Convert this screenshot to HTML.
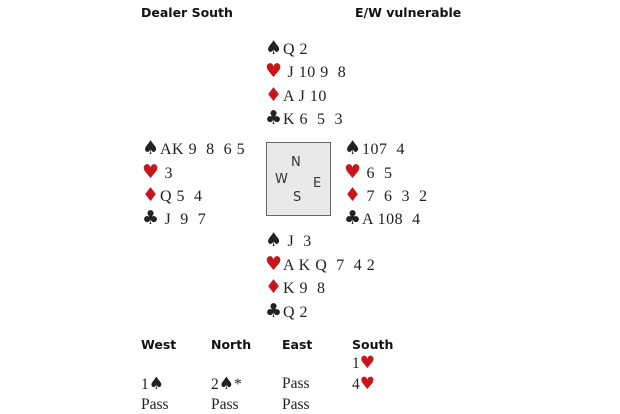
<!DOCTYPE html>
<html><head><meta charset="utf-8"><style>
body{margin:0;width:620px;height:413px;background:#fff;position:relative;overflow:hidden;font-family:"Liberation Serif",serif;color:#222}
.h{position:absolute;font-family:"DejaVu Sans","Liberation Sans",sans-serif;font-weight:bold;font-size:12.5px;color:#111;line-height:16px}
.r{position:absolute;font-size:16px;line-height:20px;white-space:pre;letter-spacing:0.5px}
.s{font-family:"DejaVu Sans",sans-serif;font-size:19px;display:inline-block;width:18px;line-height:20px}
.red{color:#c8161d}
.box{position:absolute;left:266px;top:142px;width:63px;height:72px;background:#e9e9e9;border:1.5px solid #666}
.c{position:absolute;font-family:"DejaVu Sans",sans-serif;font-size:13px;color:#333}
.b{position:absolute;font-size:15.5px;line-height:18px}
.bs{font-family:"DejaVu Sans",sans-serif;font-size:17px}
</style></head><body>
<div class="h" style="left:141px;top:5px">Dealer South</div>
<div class="h" style="left:355px;top:5px">E/W vulnerable</div>

<div class="r" style="left:265px;top:38px"><span class="s">♠</span>Q 2</div>
<div class="r" style="left:265px;top:61px"><span class="s red">♥</span> J 10 9  8</div>
<div class="r" style="left:265px;top:85px"><span class="s red">♦</span>A J 10</div>
<div class="r" style="left:265px;top:108px"><span class="s">♣</span>K 6  5  3</div>

<div class="r" style="left:142px;top:138px"><span class="s">♠</span>AK 9  8  6 5</div>
<div class="r" style="left:142px;top:162px"><span class="s red">♥</span> 3</div>
<div class="r" style="left:142px;top:185px"><span class="s red">♦</span>Q 5  4</div>
<div class="r" style="left:142px;top:208px"><span class="s">♣</span> J  9  7</div>

<div class="box"></div>
<div class="c" style="left:291px;top:155px">N</div>
<div class="c" style="left:275px;top:172px">W</div>
<div class="c" style="left:313px;top:176px">E</div>
<div class="c" style="left:293px;top:190px">S</div>

<div class="r" style="left:344px;top:138px"><span class="s">♠</span>107  4</div>
<div class="r" style="left:344px;top:162px"><span class="s red">♥</span> 6  5</div>
<div class="r" style="left:344px;top:185px"><span class="s red">♦</span> 7  6  3  2</div>
<div class="r" style="left:344px;top:208px"><span class="s">♣</span>A 108  4</div>

<div class="r" style="left:265px;top:230px"><span class="s">♠</span> J  3</div>
<div class="r" style="left:265px;top:254px"><span class="s red">♥</span>A K Q  7  4 2</div>
<div class="r" style="left:265px;top:277px"><span class="s red">♦</span>K 9  8</div>
<div class="r" style="left:265px;top:301px"><span class="s">♣</span>Q 2</div>

<div class="h" style="left:141px;top:337px">West</div>
<div class="h" style="left:211px;top:337px">North</div>
<div class="h" style="left:282px;top:337px">East</div>
<div class="h" style="left:352px;top:337px">South</div>
<div class="b" style="left:352px;top:354px">1<span class="bs red">♥</span></div>
<div class="b" style="left:141px;top:375px">1<span class="bs">♠</span></div>
<div class="b" style="left:211px;top:375px">2<span class="bs">♠</span>*</div>
<div class="b" style="left:282px;top:375px">Pass</div>
<div class="b" style="left:352px;top:375px">4<span class="bs red">♥</span></div>
<div class="b" style="left:141px;top:396px">Pass</div>
<div class="b" style="left:211px;top:396px">Pass</div>
<div class="b" style="left:282px;top:396px">Pass</div>
</body></html>
